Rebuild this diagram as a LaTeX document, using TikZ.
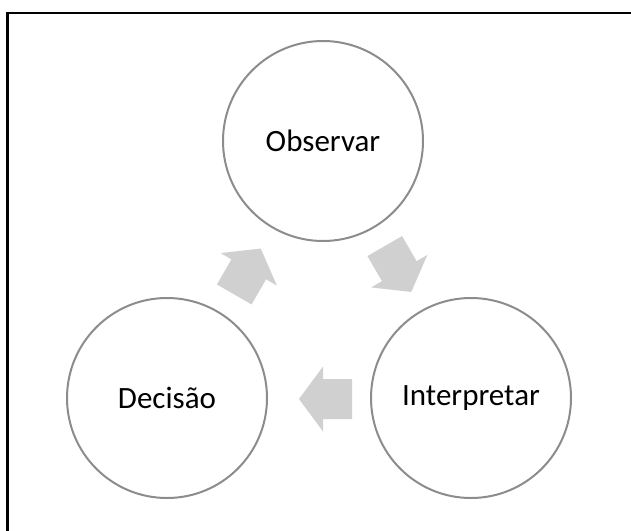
\documentclass[tikz,border=0pt]{standalone}
\usepackage{fontspec}
\setmainfont{Carlito}
\usepackage{tikz}
\usetikzlibrary{shapes}
\definecolor{ring}{HTML}{8C8C8C}
\definecolor{blk}{HTML}{D0D0D0}
\tikzset{stage/.style={circle,draw=ring,line width=2pt,minimum size=200pt,inner sep=0pt,
    font=\fontsize{31}{37}\selectfont},
  blockarrow/.pic={\fill[blk] (-26.5,-20) -- (2.5,-20) -- (2.5,-32.5) -- (26.5,0)
      -- (2.5,32.5) -- (2.5,20) -- (-26.5,20) -- cycle;}}

\begin{document}
\begin{tikzpicture}[x=1pt,y=-1pt]
    \useasboundingbox (0,0) rectangle (631,530);
    % frame
    \coordinate (fb) at (7.5,531);
    \coordinate (fc) at (7.5,13);
    \coordinate (fr) at (632,13);
    \draw[line width=2.2pt] (fb) -- (fc) -- (fr);
    % stages
    \node[stage] (obs) at (323,141) {Observar};
    \node[stage] (int) at (471,398) {Interpretar};
    \node[stage] (dec) at (167,398) {Decisão};
    % arrows
    \pic[rotate=-60] at (398,269) {blockarrow};
    \pic[rotate=180] at (325.5,399) {blockarrow};
    \pic[rotate=60] at (247.5,271.5) {blockarrow};
  \end{tikzpicture}
\end{document}
